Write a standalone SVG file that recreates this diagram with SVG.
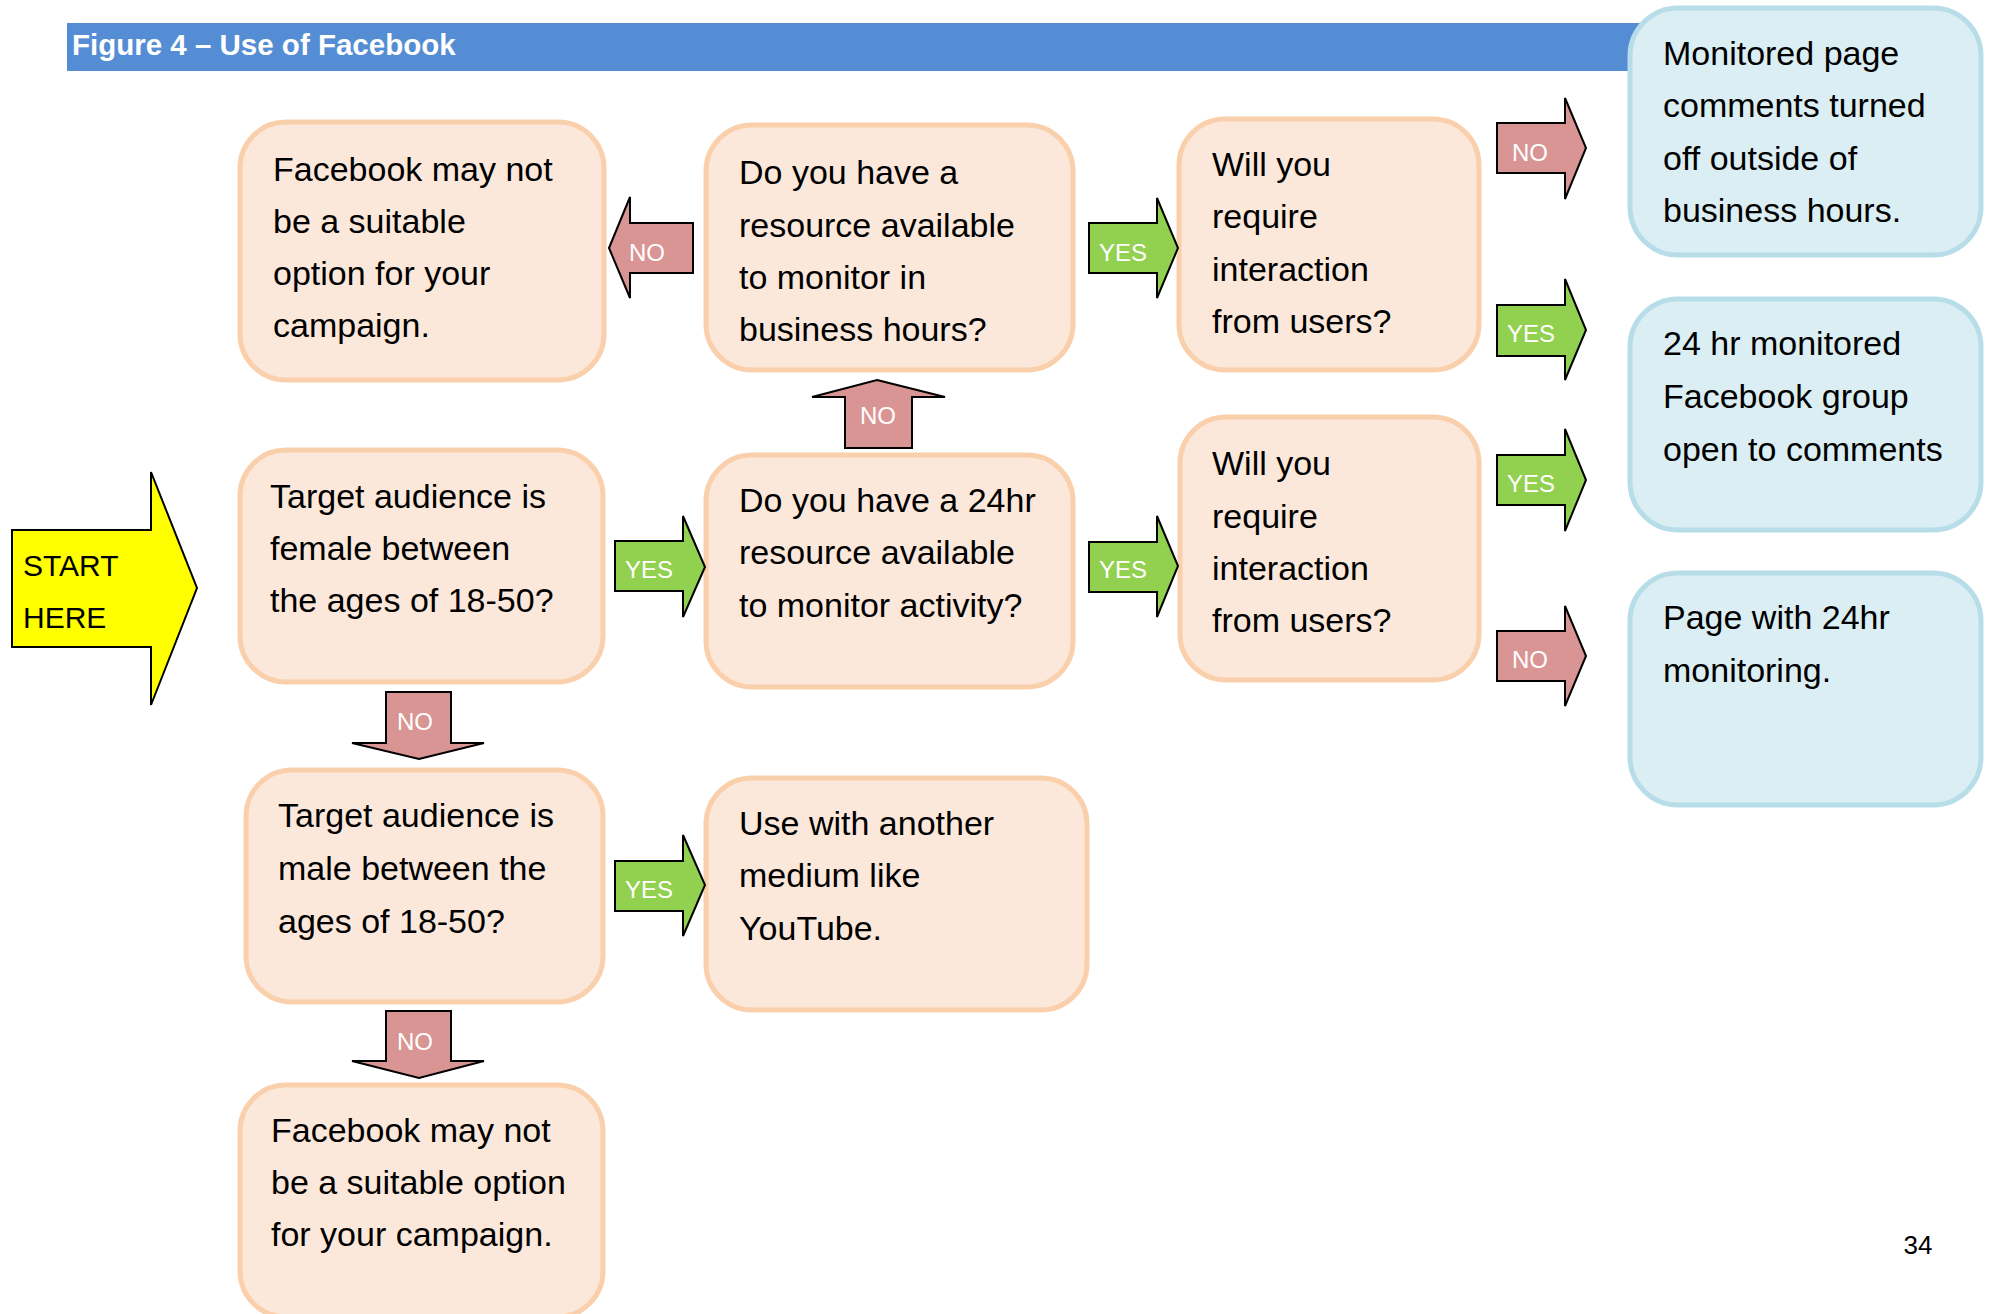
<svg xmlns="http://www.w3.org/2000/svg" width="1989" height="1314" viewBox="0 0 1989 1314">
<style>
.q{fill:#FCE8DA;stroke:#FAD0AC;stroke-width:5}
.r{fill:#DBEEF3;stroke:#B7DDE8;stroke-width:5}
.t{font-family:"Liberation Sans",Arial,sans-serif;font-size:34px;fill:#000}
.s{font-family:"Liberation Sans",Arial,sans-serif;font-size:30px;fill:#000}
.no{fill:#D99594;stroke:#000;stroke-width:2;stroke-linejoin:miter}
.yes{fill:#92D050;stroke:#000;stroke-width:2;stroke-linejoin:miter}
.lb{font-family:"Liberation Sans",Arial,sans-serif;font-size:24px;fill:#fff;text-anchor:middle}
</style>
<rect width="1989" height="1314" fill="#fff"/>
<g id="title">
<rect x="67" y="23" width="1575" height="48" fill="#548DD4"/>
<text x="72" y="55" font-family="'Liberation Sans',Arial,sans-serif" font-size="29.5" font-weight="bold" fill="#fff">Figure 4 – Use of Facebook</text>
</g>
<g id="start">
<path d="M12,530 L151,530 L151,472 L197,588 L151,705 L151,647 L12,647 Z" fill="#FFFF00" stroke="#000" stroke-width="2"/>
<text class="s" x="23" y="576">START</text>
<text class="s" x="23" y="628">HERE</text>
</g>
<g id="n-unsuitable1">
<rect class="q" x="240" y="122" width="364" height="258" rx="46"/>
<text class="t" x="273" y="181">Facebook may not</text>
<text class="t" x="273" y="233">be a suitable</text>
<text class="t" x="273" y="285">option for your</text>
<text class="t" x="273" y="337">campaign.</text>
</g>
<g id="n-business">
<rect class="q" x="706" y="125" width="367" height="245" rx="46"/>
<text class="t" x="739" y="184">Do you have a</text>
<text class="t" x="739" y="237">resource available</text>
<text class="t" x="739" y="289">to monitor in</text>
<text class="t" x="739" y="341">business hours?</text>
</g>
<g id="n-interact1">
<rect class="q" x="1179" y="119" width="300" height="251" rx="46"/>
<text class="t" x="1212" y="176">Will you</text>
<text class="t" x="1212" y="228">require</text>
<text class="t" x="1212" y="281">interaction</text>
<text class="t" x="1212" y="333">from users?</text>
</g>
<g id="n-monitored">
<rect class="r" x="1630" y="8" width="351" height="247" rx="48"/>
<text class="t" x="1663" y="65">Monitored page</text>
<text class="t" x="1663" y="117">comments turned</text>
<text class="t" x="1663" y="170">off outside of</text>
<text class="t" x="1663" y="222">business hours.</text>
</g>
<g id="n-group">
<rect class="r" x="1630" y="299" width="351" height="231" rx="48"/>
<text class="t" x="1663" y="355">24 hr monitored</text>
<text class="t" x="1663" y="408">Facebook group</text>
<text class="t" x="1663" y="461">open to comments</text>
</g>
<g id="n-page24">
<rect class="r" x="1630" y="573" width="351" height="232" rx="48"/>
<text class="t" x="1663" y="629">Page with 24hr</text>
<text class="t" x="1663" y="682">monitoring.</text>
</g>
<g id="n-female">
<rect class="q" x="240" y="450" width="363" height="232" rx="46"/>
<text class="t" x="270" y="508">Target audience is</text>
<text class="t" x="270" y="560">female between</text>
<text class="t" x="270" y="612">the ages of 18-50?</text>
</g>
<g id="n-24hr">
<rect class="q" x="706" y="455" width="367" height="232" rx="46"/>
<text class="t" x="739" y="512">Do you have a 24hr</text>
<text class="t" x="739" y="564">resource available</text>
<text class="t" x="739" y="617">to monitor activity?</text>
</g>
<g id="n-interact2">
<rect class="q" x="1180" y="417" width="299" height="263" rx="46"/>
<text class="t" x="1212" y="475">Will you</text>
<text class="t" x="1212" y="528">require</text>
<text class="t" x="1212" y="580">interaction</text>
<text class="t" x="1212" y="632">from users?</text>
</g>
<g id="n-male">
<rect class="q" x="246" y="770" width="357" height="232" rx="46"/>
<text class="t" x="278" y="827">Target audience is</text>
<text class="t" x="278" y="880">male between the</text>
<text class="t" x="278" y="933">ages of 18-50?</text>
</g>
<g id="n-youtube">
<rect class="q" x="706" y="778" width="381" height="232" rx="46"/>
<text class="t" x="739" y="835">Use with another</text>
<text class="t" x="739" y="887">medium like</text>
<text class="t" x="739" y="940">YouTube.</text>
</g>
<g id="n-unsuitable2">
<rect class="q" x="240" y="1085" width="363" height="232" rx="46"/>
<text class="t" x="271" y="1142">Facebook may not</text>
<text class="t" x="271" y="1194">be a suitable option</text>
<text class="t" x="271" y="1246">for your campaign.</text>
</g>
<g id="connectors">
<path class="no" d="M609,248 L630,197 L630,223 L693,223 L693,273 L630,273 L630,298 Z"/>
<text class="lb" x="647" y="261">NO</text>
<path class="yes" d="M1089,223 L1157,223 L1157,198 L1178,248 L1157,298 L1157,273 L1089,273 Z"/>
<text class="lb" x="1123" y="261">YES</text>
<path class="no" d="M1497,123 L1565,123 L1565,98 L1586,148 L1565,199 L1565,173 L1497,173 Z"/>
<text class="lb" x="1530" y="161">NO</text>
<path class="yes" d="M1497,305 L1565,305 L1565,279 L1586,330 L1565,380 L1565,356 L1497,356 Z"/>
<text class="lb" x="1531" y="342">YES</text>
<path class="no" d="M877,380 L945,397 L912,397 L912,448 L845,448 L845,397 L812,397 Z"/>
<text class="lb" x="878" y="424">NO</text>
<path class="yes" d="M615,541 L683,541 L683,516 L705,567 L683,617 L683,591 L615,591 Z"/>
<text class="lb" x="649" y="578">YES</text>
<path class="yes" d="M1089,542 L1157,542 L1157,516 L1178,566 L1157,617 L1157,592 L1089,592 Z"/>
<text class="lb" x="1123" y="578">YES</text>
<path class="yes" d="M1497,455 L1565,455 L1565,429 L1586,480 L1565,531 L1565,505 L1497,505 Z"/>
<text class="lb" x="1531" y="492">YES</text>
<path class="no" d="M1497,631 L1565,631 L1565,606 L1586,656 L1565,706 L1565,681 L1497,681 Z"/>
<text class="lb" x="1530" y="668">NO</text>
<path class="no" d="M386,692 L451,692 L451,743 L484,743 L419,759 L352,743 L386,743 Z"/>
<text class="lb" x="415" y="730">NO</text>
<path class="yes" d="M615,861 L683,861 L683,835 L705,885 L683,936 L683,911 L615,911 Z"/>
<text class="lb" x="649" y="898">YES</text>
<path class="no" d="M386,1011 L451,1011 L451,1061 L484,1061 L419,1078 L352,1061 L386,1061 Z"/>
<text class="lb" x="415" y="1050">NO</text>
</g>
<text x="1918" y="1254" font-family="'Liberation Sans',Arial,sans-serif" font-size="26" fill="#000" text-anchor="middle">34</text>
</svg>
